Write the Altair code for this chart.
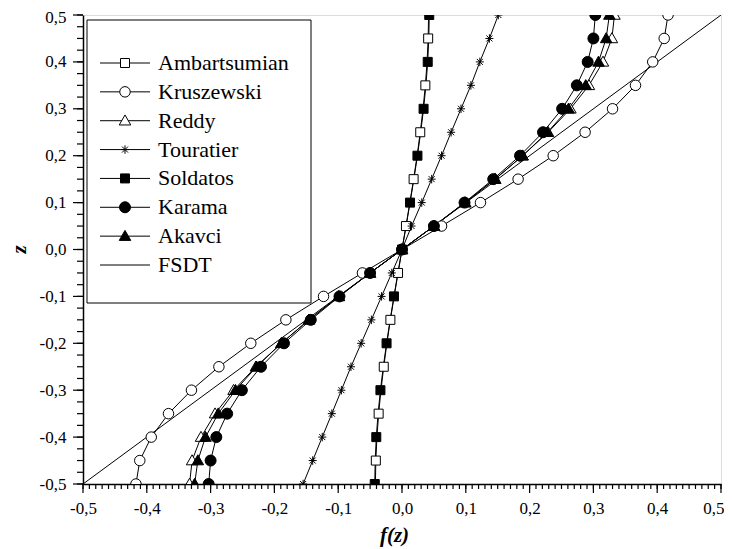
import altair as alt
import pandas as pd

# ---------------- data ----------------
z_vals = [-0.50, -0.45, -0.40, -0.35, -0.30, -0.25, -0.20, -0.15, -0.10, -0.05, 0.00,
          0.05, 0.10, 0.15, 0.20, 0.25, 0.30, 0.35, 0.40, 0.45, 0.50]

ambartsumian = [-0.0417, -0.0410, -0.0393, -0.0366, -0.0330, -0.0286, -0.0237, -0.0182, -0.0123, -0.0062, 0.0,
                0.0062, 0.0123, 0.0182, 0.0237, 0.0286, 0.0330, 0.0366, 0.0393, 0.0410, 0.0417]
kruszewski = [-0.417, -0.411, -0.393, -0.366, -0.330, -0.287, -0.237, -0.182, -0.123, -0.062, 0.0,
              0.062, 0.123, 0.182, 0.237, 0.287, 0.330, 0.366, 0.393, 0.411, 0.417]
reddy = [-0.333, -0.329, -0.315, -0.293, -0.264, -0.229, -0.189, -0.146, -0.099, -0.050, 0.0,
         0.050, 0.099, 0.146, 0.189, 0.229, 0.264, 0.293, 0.315, 0.329, 0.333]
touratier = [-0.155, -0.140, -0.125, -0.110, -0.095, -0.080, -0.064, -0.048, -0.032, -0.016, 0.0,
             0.015, 0.031, 0.0465, 0.062, 0.077, 0.0925, 0.108, 0.122, 0.137, 0.151]
soldatos = [-0.0427, -0.0420, -0.0403, -0.0375, -0.0338, -0.0293, -0.0242, -0.0186, -0.0126, -0.0064, 0.0,
            0.0064, 0.0126, 0.0186, 0.0242, 0.0293, 0.0338, 0.0375, 0.0403, 0.0420, 0.0427]
karama = [-0.303, -0.300, -0.291, -0.274, -0.251, -0.221, -0.185, -0.143, -0.098, -0.050, 0.0,
          0.050, 0.098, 0.143, 0.185, 0.221, 0.251, 0.274, 0.291, 0.300, 0.303]
akavci = [-0.325, -0.320, -0.308, -0.288, -0.261, -0.228, -0.189, -0.146, -0.099, -0.050, 0.0,
          0.050, 0.099, 0.146, 0.189, 0.228, 0.261, 0.288, 0.308, 0.320, 0.325]
fsdt_z = [-0.5, 0.5]
fsdt_f = [-0.5, 0.5]

series_names = ["Ambartsumian", "Kruszewski", "Reddy", "Touratier", "Soldatos", "Karama", "Akavci", "FSDT"]
series_values = [ambartsumian, kruszewski, reddy, touratier, soldatos, karama, akavci]
# which points carry a marker: Ambartsumian on odd indices, Soldatos on even ones, others on all
marker_every = {"Ambartsumian": "odd", "Soldatos": "even"}

# axis ticks
major_ticks = [(i - 5) / 10 for i in range(11)]             # -0.5 ... 0.5
x_minor_ticks = [(i - 50) / 100 for i in range(101)]        # every 0.01
y_minor_ticks = [(i * 25 - 500) / 1000 for i in range(41)]  # every 0.025

# ---------------- build tables ----------------
rows = []
for name, vals in zip(series_names[:-1], series_values):
    for i, (zz, ff) in enumerate(zip(z_vals, vals)):
        mode = marker_every.get(name, "all")
        mk = mode == "all" or (mode == "odd" and i % 2 == 1) or (mode == "even" and i % 2 == 0)
        rows.append({"series": name, "z": zz, "f": ff, "marker": mk})
for zz, ff in zip(fsdt_z, fsdt_f):
    rows.append({"series": "FSDT", "z": zz, "f": ff, "marker": False})
df = pd.DataFrame(rows)

legend_df = pd.DataFrame({"series": series_names, "row": list(range(len(series_names)))})

# marker glyphs (custom paths, unit = sqrt(size)/2 px)
plot_shapes = [
    "M-0.9,-0.9L0.9,-0.9L0.9,0.9L-0.9,0.9Z",                                  # open square
    "M1.05,0A1.05,1.05,0,1,1,-1.05,0A1.05,1.05,0,1,1,1.05,0Z",                # open circle
    "M0,-1.15L1.15,0.85L-1.15,0.85Z",                                          # open triangle
    "M-0.8,0L0.8,0M0,-0.85L0,0.85M-0.6,-0.6L0.6,0.6M-0.6,0.6L0.6,-0.6",        # asterisk
    "M-0.9,-0.9L0.9,-0.9L0.9,0.9L-0.9,0.9Z",                                  # filled square
    "M1.1,0A1.1,1.1,0,1,1,-1.1,0A1.1,1.1,0,1,1,1.1,0Z",                       # filled circle
    "M0,-1.15L1.15,0.85L-1.15,0.85Z",                                          # filled triangle
]
plot_fills = ["white", "white", "white", "white", "black", "black", "black"]

label_expr = "replace(replace(format(datum.value, '.1f'), '.', ','), '\u2212', '-')"
last_test = "datum.value > 0.45"

x_scale = alt.Scale(domain=[-0.5, 0.5], nice=False, zero=False)
y_scale = alt.Scale(domain=[-0.5, 0.5], nice=False, zero=False)
shape_scale = alt.Scale(domain=series_names[:-1], range=plot_shapes)
fill_scale = alt.Scale(domain=series_names[:-1], range=plot_fills)
legend_y = alt.Scale(domain=[0, len(series_names) - 1], range=[48, 250])

x_axis = alt.Axis(
    orient="bottom", values=major_ticks, labelExpr=label_expr, ticks=False, tickSize=0,
    grid=False, labelOverlap=False, labelFlush=False,
    labelAlign={"condition": {"test": last_test, "value": "right"}, "value": "center"},
    labelOffset={"condition": {"test": last_test, "value": 3}, "value": 0},
    domainColor="black", domainWidth=1.5,
    labelFont="Liberation Serif", labelFontSize=17, labelColor="black", labelPadding=16,
    title="f(z)", titleFont="Liberation Serif", titleFontSize=21, titleFontWeight="bold",
    titleFontStyle="italic", titleColor="black", titleX=311, titleY=57, titleBaseline="alphabetic",
    titleAlign="center",
)
y_axis = alt.Axis(
    orient="left", values=major_ticks, labelExpr=label_expr, ticks=False, tickSize=0,
    grid=False, labelOverlap=False, labelFlush=False,
    labelOffset={"condition": {"test": last_test, "value": 2}, "value": 0},
    domainColor="black", domainWidth=1.5,
    labelFont="Liberation Serif", labelFontSize=17, labelColor="black", labelPadding=17,
    labelBaseline="middle",
    title="z", titleFont="Liberation Serif", titleFontSize=21, titleFontWeight="bold",
    titleFontStyle="italic", titleColor="black", titleX=-64, titleY=234, titleAngle=270,
    titleBaseline="middle", titleAlign="center",
)

base = alt.Chart(df)

lines = base.mark_line(color="black", strokeWidth=1, clip=True).encode(
    x=alt.X("f:Q", scale=x_scale, axis=x_axis),
    y=alt.Y("z:Q", scale=y_scale, axis=y_axis),
    detail="series:N",
    order="z:Q",
)

points = base.transform_filter("datum.marker").mark_point(
    color="black", strokeWidth=1, opacity=1, size=100, clip=True
).encode(
    x=alt.X("f:Q", scale=x_scale),
    y=alt.Y("z:Q", scale=y_scale, axis=None),
    shape=alt.Shape("series:N", scale=shape_scale, legend=None),
    fill=alt.Fill("series:N", scale=fill_scale, legend=None),
)

# ---- tick marks (outward) ----
tick_style = dict(color="black", strokeWidth=1.2)
x_minor = alt.Chart(pd.DataFrame({"f": x_minor_ticks})).mark_rule(**tick_style).encode(
    x=alt.X("f:Q", scale=x_scale), y=alt.value(469), y2=alt.value(474))
x_major = alt.Chart(pd.DataFrame({"f": major_ticks})).mark_rule(**tick_style).encode(
    x=alt.X("f:Q", scale=x_scale), y=alt.value(469), y2=alt.value(478))
y_minor = alt.Chart(pd.DataFrame({"z": y_minor_ticks})).mark_rule(**tick_style).encode(
    y=alt.Y("z:Q", scale=y_scale, axis=None), x=alt.value(0), x2=alt.value(-6))
y_major = alt.Chart(pd.DataFrame({"z": major_ticks})).mark_rule(**tick_style).encode(
    y=alt.Y("z:Q", scale=y_scale, axis=None), x=alt.value(0), x2=alt.value(-10))

# ---- legend (box, line samples, markers, labels) ----
legend_box = alt.Chart(pd.DataFrame({"k": [0]})).mark_rect(
    fill="white", stroke="black", strokeWidth=1
).encode(x=alt.value(4), x2=alt.value(228), y=alt.value(5), y2=alt.value(288))

legend_lines = alt.Chart(legend_df).mark_rule(color="black", strokeWidth=1).encode(
    x=alt.value(17), x2=alt.value(67),
    y=alt.Y("row:Q", scale=legend_y, axis=None),
)
legend_marks = alt.Chart(legend_df).transform_filter("datum.series != 'FSDT'").mark_point(
    color="black", strokeWidth=1, opacity=1, size=100
).encode(
    x=alt.value(42),
    y=alt.Y("row:Q", scale=legend_y, axis=None),
    shape=alt.Shape("series:N", scale=shape_scale, legend=None),
    fill=alt.Fill("series:N", scale=fill_scale, legend=None),
)
legend_text = alt.Chart(legend_df).mark_text(
    align="left", baseline="middle", font="Liberation Serif", fontSize=22, color="black"
).encode(
    x=alt.value(75),
    y=alt.Y("row:Q", scale=legend_y, axis=None),
    text="series:N",
)

chart = (
    alt.layer(lines, points, x_minor, x_major, y_minor, y_major,
              legend_box, legend_lines, legend_marks, legend_text)
    .resolve_scale(y="independent")
    .properties(
        width=638, height=469,
        autosize=alt.AutoSizeParams(type="none"),
        padding={"left": 75, "top": 7, "right": 3, "bottom": 64},
    )
    .configure_view(stroke="black", strokeWidth=1.5)
    .configure(background="white")
)

chart.save("out.html", embed_options={"renderer": "svg", "actions": False})
